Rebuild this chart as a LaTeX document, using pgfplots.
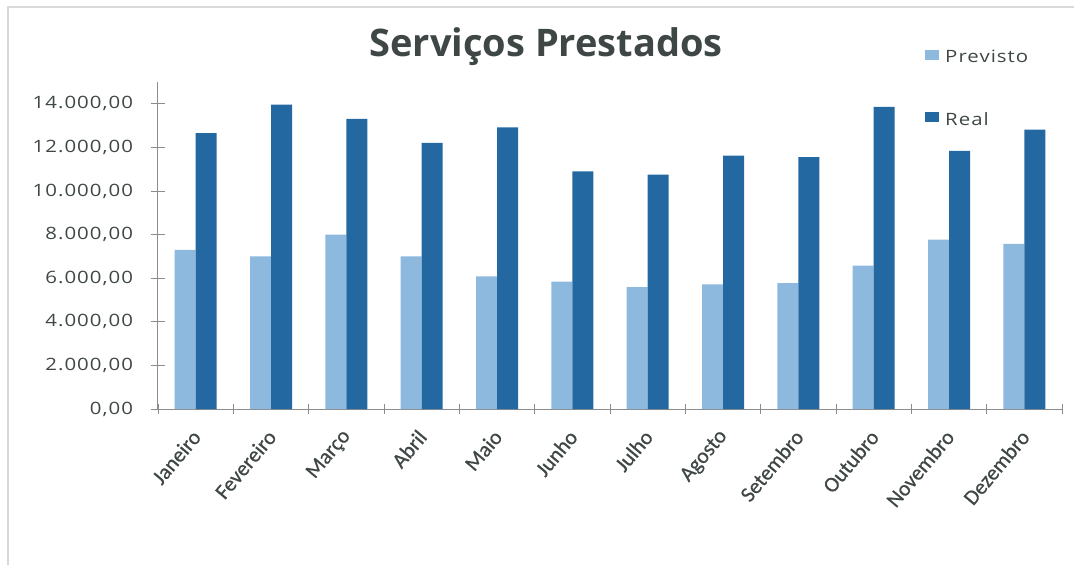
\documentclass[border=0pt]{standalone}
\usepackage{fontspec}
\setmainfont{Open Sans}
\newfontfamily\tickfont{Open Sans}[FakeStretch=1.2, LetterSpace=6]
\newfontfamily\monthfont{Carlito}[FakeBold=0.6]
\usepackage{pgfplots}
\pgfplotsset{compat=1.18}
\definecolor{previsto}{HTML}{8DB9DE}
\definecolor{real}{HTML}{2468A2}
\definecolor{txt}{HTML}{3F4646}
\definecolor{axisgray}{HTML}{8C8C8C}

\pgfplotstableread{
x previsto real
0  7300 12660
1  7000 13960
2  8000 13310
3  7000 12210
4  6080 12920
5  5840 10900
6  5590 10750
7  5720 11620
8  5770 11550
9  6580 13860
10 7770 11840
11 7570 12820
}\servicos

\begin{document}
\begin{tikzpicture}[x=1pt,y=1pt]
\useasboundingbox (0,0) rectangle (1074,565);
\draw[gray!30, line width=1.5pt] (8,0) -- (8,558) -- (1074,558);
\node[anchor=base, font=\bfseries\fontsize{38}{42}\selectfont, text=txt] at (546,508) {Serviços Prestados};
\begin{axis}[
  at={(158pt,156pt)}, anchor=south west,
  scale only axis, width=904pt, height=327pt,
  ybar=0pt, bar width=21pt,
  xmin=-0.5, xmax=11.5, ymin=0, ymax=15000,
  axis lines=left,
  axis line style={-, draw=axisgray, line width=1pt},
  xtick={0,...,11},
  xticklabels={Janeiro,Fevereiro,Março,Abril,Maio,Junho,Julho,Agosto,Setembro,Outubro,Novembro,Dezembro},
  major x tick style={draw=none},
  minor xtick={-0.5,0.5,...,11.5},
  minor tick length=10pt,
  major tick length=15pt,
  tick align=center,
  tick style={draw=axisgray, line width=0.8pt},
  ytick={0,2000,...,14000},
  scaled y ticks=false,
  yticklabel style={font=\tickfont\fontsize{17}{19}\selectfont, text=txt, xshift=-14pt,
    /pgf/number format/fixed, /pgf/number format/fixed zerofill,
    /pgf/number format/precision=2, /pgf/number format/1000 sep={.},
    /pgf/number format/use comma, /pgf/number format/assume math mode=true},
  xticklabel style={font=\monthfont\fontsize{21.5}{23}\selectfont, text=txt, yshift=-14pt, xshift=3pt, rotate=50, anchor=east},
  legend style={at={(0.8485,1.104)}, anchor=north west, draw=none, fill=none,
    font=\tickfont\fontsize{17}{19}\selectfont, text=txt, row sep=44pt, inner sep=0pt,
    nodes={inner sep=2pt}, /tikz/every odd column/.append style={column sep=4pt}},
  legend cell align=left,
  legend image code/.code={\fill[#1] (0pt,-3pt) rectangle (14pt,7pt);},
]
\addplot[fill=previsto, draw=none] table[x=x, y=previsto] {\servicos};
\addlegendentry{Previsto}
\addplot[fill=real, draw=none] table[x=x, y=real] {\servicos};
\addlegendentry{Real}
\end{axis}
\end{tikzpicture}
\end{document}
